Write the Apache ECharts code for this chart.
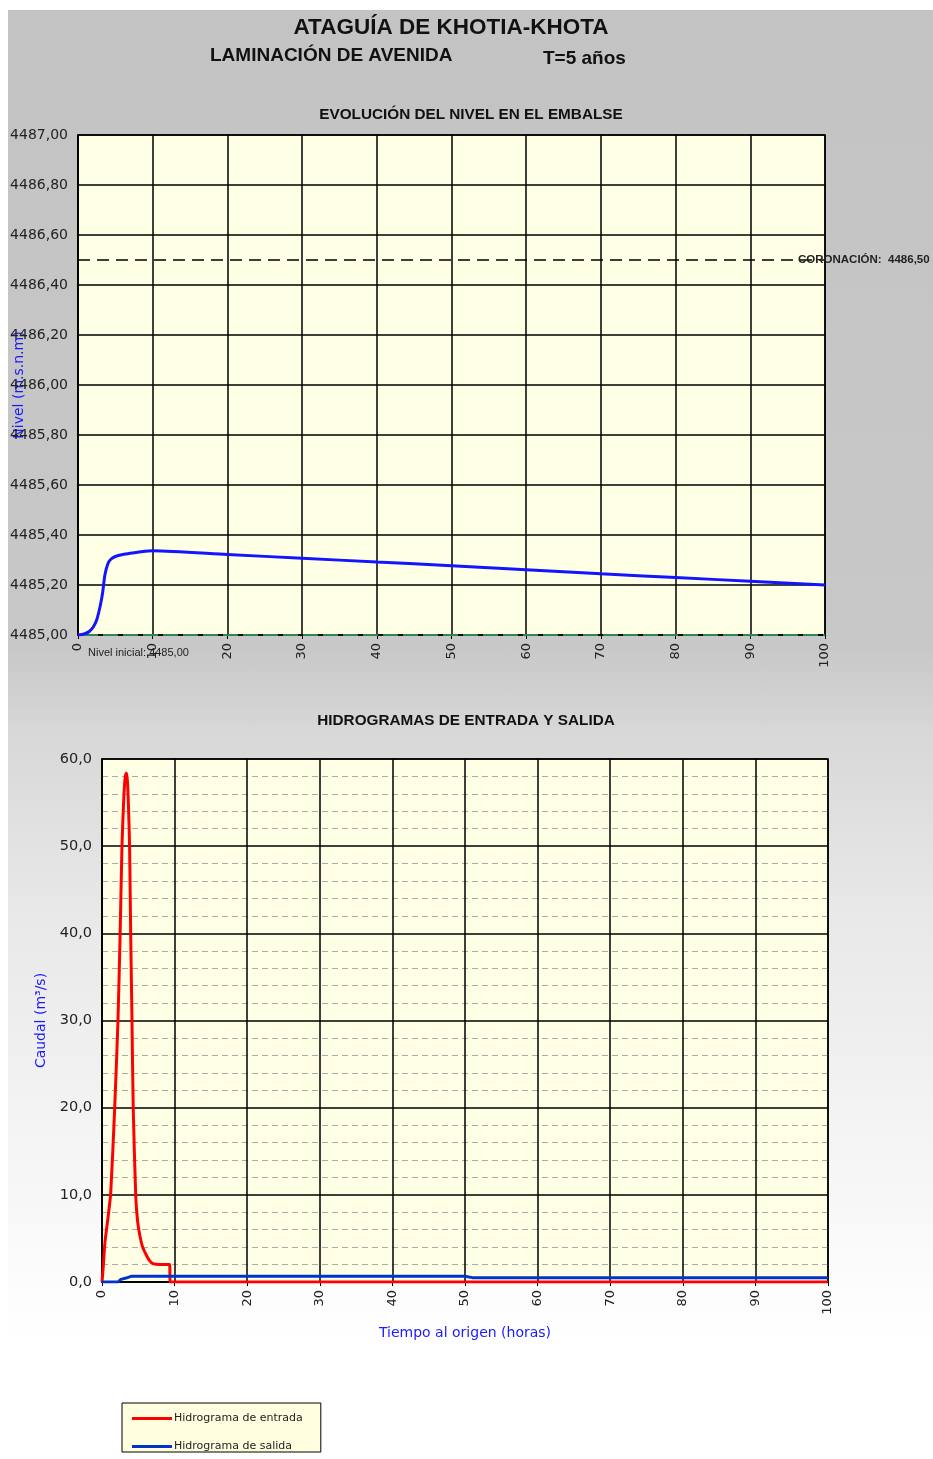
<!DOCTYPE html>
<html><head><meta charset="utf-8">
<script src="https://cdn.jsdelivr.net/npm/echarts@6/dist/echarts.min.js"></script>
<style>
html,body{margin:0;padding:0;background:#fff;}
#wrap{position:absolute;left:0;top:0;width:933px;height:1459px;background:#fff;}
#bg{position:absolute;left:8px;top:10px;width:925px;height:1449px;
background:linear-gradient(to bottom,#c3c3c3 0%,#c8c8c8 44%,#d8d8d8 50%,#e8e8e8 62%,#f6f6f6 80%,#ffffff 92%);}
#chart{position:absolute;left:0;top:0;width:933px;height:1459px;}
</style></head>
<body><div id="wrap"><div id="bg"></div><div id="chart"></div></div>
<script>
// ---- data ----
const xTicks = [0,10,20,30,40,50,60,70,80,90,100];
const levelT = [0,0.5,1,1.5,2,2.5,3,3.3,3.6,4,4.4,5,6,7,8,10,20,30,40,50,60,70,80,90,100];
const levelZ = [4485.00,4485.002,4485.006,4485.014,4485.03,4485.06,4485.12,4485.17,4485.24,4485.285,4485.303,4485.314,4485.322,4485.327,4485.331,4485.337,4485.322,4485.307,4485.292,4485.277,4485.261,4485.245,4485.23,4485.215,4485.20];
const crestLevel = 4486.50;
const initialLevel = 4485.00;
const inflowT = [0,0.15,0.4,0.8,1.2,1.75,2.2,2.5,2.75,3.0,3.2,3.35,3.5,3.65,3.8,3.95,4.13,4.3,4.64,4.9,5.2,5.6,6.1,6.5,7.0,8.0,9.3,9.4,100];
const inflowQ = [0,1.5,4.5,7.2,10.2,20,30,40,50,55.5,58,58.4,57.5,54.5,50,40,30,20,10,7,5.4,4,3.1,2.5,2.1,2.0,2.0,0,0];
const outflowT = [0,2.2,2.6,3.3,4.0,50,51,100];
const outflowQ = [0,0,0.3,0.45,0.65,0.65,0.5,0.5];

const pair = (a,b)=>a.map((v,i)=>[v,b[i]]);
const comma = (v,d)=>v.toFixed(d).replace('.',',');
const F = '"Liberation Sans", Arial, sans-serif';
const D = '"DejaVu Sans", sans-serif';
const plotBg = '#ffffe6';

const chart = echarts.init(document.getElementById('chart'), null, {renderer:'canvas'});
const xAxisBase = {
  type:'value', min:0, max:100, interval:10, nameMoveOverlap:false,
  axisLine:{show:true, lineStyle:{color:'#000', width:1.5}},
  axisTick:{show:true, length:4, lineStyle:{color:'#000'}},
  axisLabel:{rotate:90, fontSize:13, color:'#222', fontFamily:D, margin:8},
  splitLine:{show:true, lineStyle:{color:'#000', width:1.5}}
};
chart.setOption({
  animation:false,
  textStyle:{fontFamily:F},
  graphic:[
    {type:'text', x:451, y:28, style:{text:'ATAGUÍA DE KHOTIA-KHOTA', font:'bold 22.5px '+F, fill:'#111', textAlign:'center', textVerticalAlign:'middle'}},
    {type:'text', x:210, y:56, style:{text:'LAMINACIÓN DE AVENIDA', font:'bold 19px '+F, fill:'#111', textAlign:'left', textVerticalAlign:'middle'}},
    {type:'text', x:543, y:59, style:{text:'T=5 años', font:'bold 19px '+F, fill:'#111', textAlign:'left', textVerticalAlign:'middle'}},
    {type:'text', x:471, y:115, style:{text:'EVOLUCIÓN DEL NIVEL EN EL EMBALSE', font:'bold 15.3px '+F, fill:'#111', textAlign:'center', textVerticalAlign:'middle'}},
    {type:'text', x:466, y:721, style:{text:'HIDROGRAMAS DE ENTRADA Y SALIDA', font:'bold 15.3px '+F, fill:'#111', textAlign:'center', textVerticalAlign:'middle'}}
  ],
  grid:[
    {left:78, top:135, width:747, height:500, containLabel:false, outerBoundsMode:'none', show:true, backgroundColor:plotBg, borderColor:'#000', borderWidth:1.5},
    {left:102, top:759, width:726, height:523, containLabel:false, outerBoundsMode:'none', show:true, backgroundColor:plotBg, borderColor:'#000', borderWidth:1.5}
  ],
  xAxis:[
    Object.assign({gridIndex:0}, xAxisBase),
    Object.assign({gridIndex:1, name:'Tiempo al origen (horas)', nameLocation:'middle', nameGap:44,
      nameTextStyle:{color:'#1a1aff', fontSize:14, fontFamily:D}}, xAxisBase)
  ],
  yAxis:[
    {gridIndex:0, type:'value', min:4485, max:4487, interval:0.2,
     name:'Nivel (m.s.n.m)', nameLocation:'middle', nameGap:52, nameMoveOverlap:false,
     nameTextStyle:{color:'#1a1aff', fontSize:14, fontFamily:D},
     axisLine:{show:true, lineStyle:{color:'#000', width:1.5}}, axisTick:{show:false},
     axisLabel:{formatter:v=>comma(v,2), fontSize:14, color:'#222', margin:10, fontFamily:D},
     splitLine:{show:true, lineStyle:{color:'#000', width:1.5}}},
    {gridIndex:1, type:'value', min:0, max:60, interval:10,
     name:'Caudal (m³/s)', nameLocation:'middle', nameGap:54, nameMoveOverlap:false,
     nameTextStyle:{color:'#1a1aff', fontSize:14, fontFamily:D},
     axisLine:{show:true, lineStyle:{color:'#000', width:1.5}}, axisTick:{show:false},
     axisLabel:{formatter:v=>comma(v,1), fontSize:14.5, color:'#222', margin:10, fontFamily:D},
     minorTick:{show:false, splitNumber:5},
     minorSplitLine:{show:true, lineStyle:{color:'#aaaaaa', type:[6,4], width:1.2}},
     splitLine:{show:true, lineStyle:{color:'#000', width:1.5}}}
  ],
  legend:{
    data:['Hidrograma de entrada','Hidrograma de salida'],
    orient:'vertical', left:122, top:1403,
    backgroundColor:'#ffffe0', borderColor:'#000', borderWidth:1,
    padding:[10,18,0,10], itemGap:17, itemWidth:40, itemHeight:3, icon:'rect',
    textStyle:{fontSize:11, color:'#222', fontFamily:D, padding:[0,0,0,-3]}
  },
  series:[
    {name:'Nivel', type:'line', xAxisIndex:0, yAxisIndex:0, data:pair(levelT, levelZ),
     showSymbol:false, smooth:0.25, lineStyle:{color:'#1414ff', width:3}, z:5,
     markLine:{symbol:'none', silent:true, animation:false, data:[
       {yAxis:crestLevel, lineStyle:{color:'#000', type:[12,7], width:1.5},
        label:{show:true, position:'end', distance:-27, formatter:'CORONACIÓN:  '+comma(crestLevel,2),
               fontSize:11.5, fontWeight:'bold', color:'#222', fontFamily:F}},
       {yAxis:initialLevel, lineStyle:{color:'#3cb371', type:'solid', width:1.5},
        label:{show:true, position:'insideStartBottom', distance:[10,12], formatter:'Nivel inicial: '+comma(initialLevel,2),
               fontSize:11, color:'#222', fontFamily:F}},
       {yAxis:initialLevel, lineStyle:{color:'#000', type:[5,15], width:1.8}, label:{show:false}}
     ]}},
    {name:'Hidrograma de entrada', type:'line', xAxisIndex:1, yAxisIndex:1, data:pair(inflowT, inflowQ),
     showSymbol:false, smooth:0.2, color:'#ff0000', lineStyle:{color:'#ff0000', width:3}, z:4},
    {name:'Hidrograma de salida', type:'line', xAxisIndex:1, yAxisIndex:1, data:pair(outflowT, outflowQ),
     showSymbol:false, color:'#0033cc', lineStyle:{color:'#0033cc', width:3}, z:5}
  ]
});
</script></body></html>
